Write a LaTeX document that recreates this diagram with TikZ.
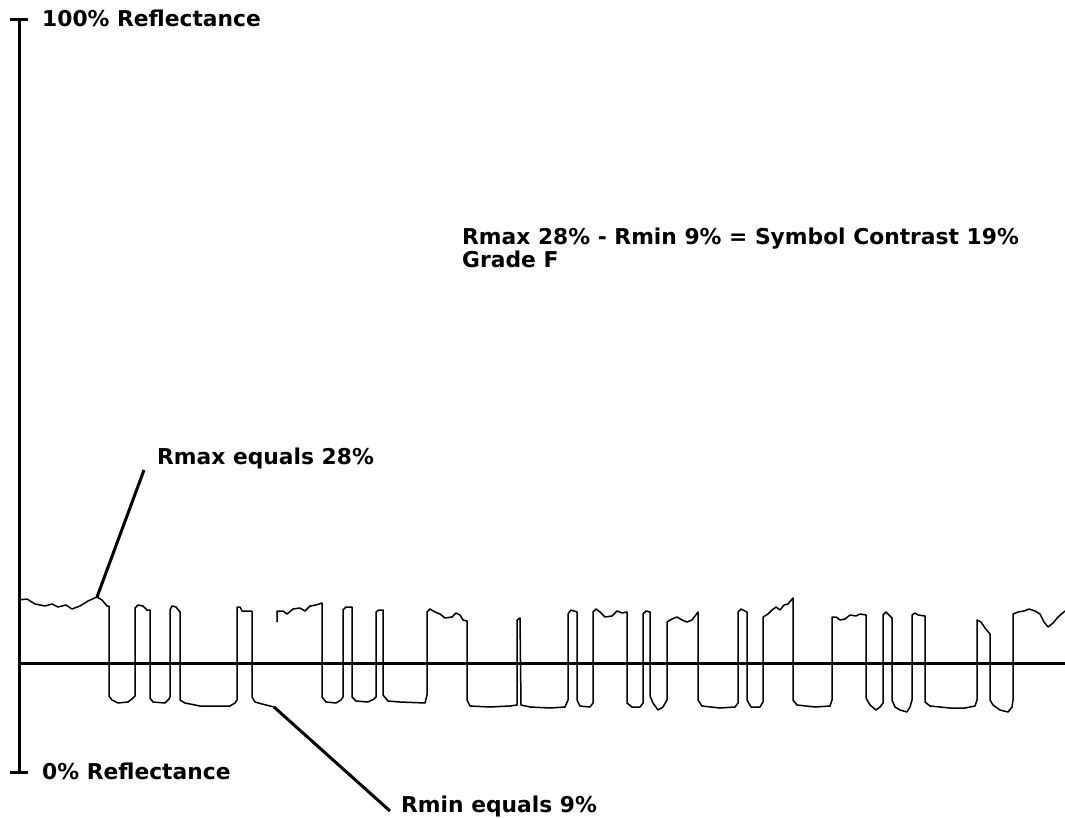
\documentclass[tikz,border=0pt]{standalone}
\usepackage{fontspec}
\setmainfont{DejaVu Sans}
\tikzset{
    lbl/.style={font=\bfseries\fontsize{21.8}{23}\selectfont, inner sep=0pt, anchor=west},
    axisline/.style={line width=3pt},
    leader/.style={line width=3pt},
    trace/.style={line width=1.5pt, line join=round}
}
\begin{document}
\begin{tikzpicture}[x=1pt, y=-1pt]
                    \useasboundingbox (0,0) rectangle (1065,818);

                    \coordinate (axtop) at (19,20);
                    \coordinate (axbot) at (19,772);
                    \coordinate (thrL) at (19,663);
                    \coordinate (thrR) at (1065,663);
                    \coordinate (maxpt) at (97,597);
                    \coordinate (minpt) at (274,707);

                    \draw [axisline] (axtop) -- (axbot);
                    \draw [axisline] ([xshift=-9pt]axtop) -- ([xshift=9pt]axtop);
                    \draw [axisline] ([xshift=-9pt]axbot) -- ([xshift=9pt]axbot);
                    \draw [axisline] (thrL) -- (thrR);

                    \node [lbl] (top) at (42,18) {100\% Reflectance};
                    \node [lbl] (bot) at (42,771) {0\% Reflectance};
                    \node [lbl] (rmax) at (157,458) {Rmax equals 28\%};
                    \node [lbl] (rmin) at (401,806) {Rmin equals 9\%};
                    \node [lbl, align=left] (sc) at (462,248) {Rmax 28\% - Rmin 9\% = Symbol Contrast 19\%\\Grade F};

                    \draw [leader] (maxpt) -- ([shift={(-13,12)}]rmax.west);
                    \draw [leader] (minpt) -- ([shift={(-11,5)}]rmin.west);

                    \draw [trace] (19,600) -- (27,599) -- (35,604) -- (45,606) -- (52,604) -- (58,607) -- (66,605) -- (72,609) -- (80,606) -- (88,601) -- (97,597) -- (102,600) -- (107,606)
                        -- (109,606) -- (109,696) -- (112,700) -- (118,703) -- (128,702) -- (133,698) -- (135,696)
                        -- (135,608) -- (138,605) -- (143,606) -- (147,610) -- (150,610)
                        -- (150,698) -- (153,702) -- (165,703) -- (169,699) -- (170,697)
                        -- (170,610) -- (172,606) -- (176,607) -- (180,612)
                        -- (180,700) -- (185,703) -- (200,706) -- (230,706) -- (235,703) -- (237,700)
                        -- (237,607) -- (240,607) -- (242,611) -- (252,611)
                        -- (252,697) -- (255,702) -- (262,704) -- (274,707);
                    \draw [trace] (277,622) -- (277,611) -- (283,611) -- (287,614) -- (293,609) -- (300,608) -- (305,611) -- (310,606) -- (316,605) -- (322,603)
                        -- (322,697) -- (326,702) -- (336,703) -- (341,700) -- (343,697)
                        -- (343,610) -- (346,607) -- (352,607)
                        -- (352,697) -- (356,701) -- (368,702) -- (374,699) -- (376,697)
                        -- (376,612) -- (379,610) -- (383,610)
                        -- (383,695) -- (388,701) -- (400,702) -- (425,703)
                        -- (427,695) -- (427,612) -- (430,609) -- (435,612) -- (440,614) -- (445,618) -- (452,617) -- (456,613) -- (460,615) -- (463,620) -- (467,621)
                        -- (467,700) -- (470,706) -- (490,707) -- (510,706) -- (517,705)
                        -- (517,620) -- (520,618) -- (521,705) -- (530,707) -- (550,708) -- (565,707) -- (568,700)
                        -- (568,614) -- (571,610) -- (577,612)
                        -- (577,700) -- (580,706) -- (590,707) -- (593,703)
                        -- (593,612) -- (596,609) -- (600,612) -- (605,617) -- (612,616) -- (617,611) -- (622,613) -- (627,612)
                        -- (627,703) -- (632,707) -- (640,707) -- (643,703)
                        -- (643,614) -- (646,611) -- (650,612)
                        -- (650,696) -- (653,703) -- (658,710) -- (663,707) -- (667,700)
                        -- (667,622) -- (672,619) -- (677,617) -- (682,620) -- (687,622) -- (692,620) -- (698,612)
                        -- (698,700) -- (702,706) -- (720,708) -- (735,707) -- (738,703)
                        -- (738,612) -- (741,609) -- (747,612)
                        -- (747,700) -- (751,707) -- (760,707) -- (763,702)
                        -- (763,617) -- (768,614) -- (772,610) -- (776,607) -- (780,610) -- (784,605) -- (788,604) -- (793,598)
                        -- (793,700) -- (797,705) -- (815,707) -- (830,706) -- (832,700)
                        -- (832,617) -- (836,617) -- (840,620) -- (845,619) -- (850,615) -- (856,616) -- (860,614) -- (866,615)
                        -- (866,698) -- (870,705) -- (876,710) -- (880,707) -- (883,703)
                        -- (883,615) -- (886,612) -- (892,618)
                        -- (892,700) -- (895,707) -- (900,710) -- (907,712) -- (910,707) -- (912,700)
                        -- (912,615) -- (915,613) -- (918,615) -- (925,616)
                        -- (925,702) -- (930,706) -- (950,708) -- (965,708) -- (975,706) -- (977,700)
                        -- (977,620) -- (981,622) -- (985,628) -- (990,634)
                        -- (990,700) -- (993,705) -- (1000,710) -- (1008,712) -- (1012,707) -- (1013,700)
                        -- (1013,614) -- (1018,612) -- (1024,611) -- (1029,609) -- (1035,611) -- (1040,614) -- (1044,622) -- (1048,627) -- (1053,623) -- (1058,617) -- (1065,611);

\end{tikzpicture}
\end{document}
